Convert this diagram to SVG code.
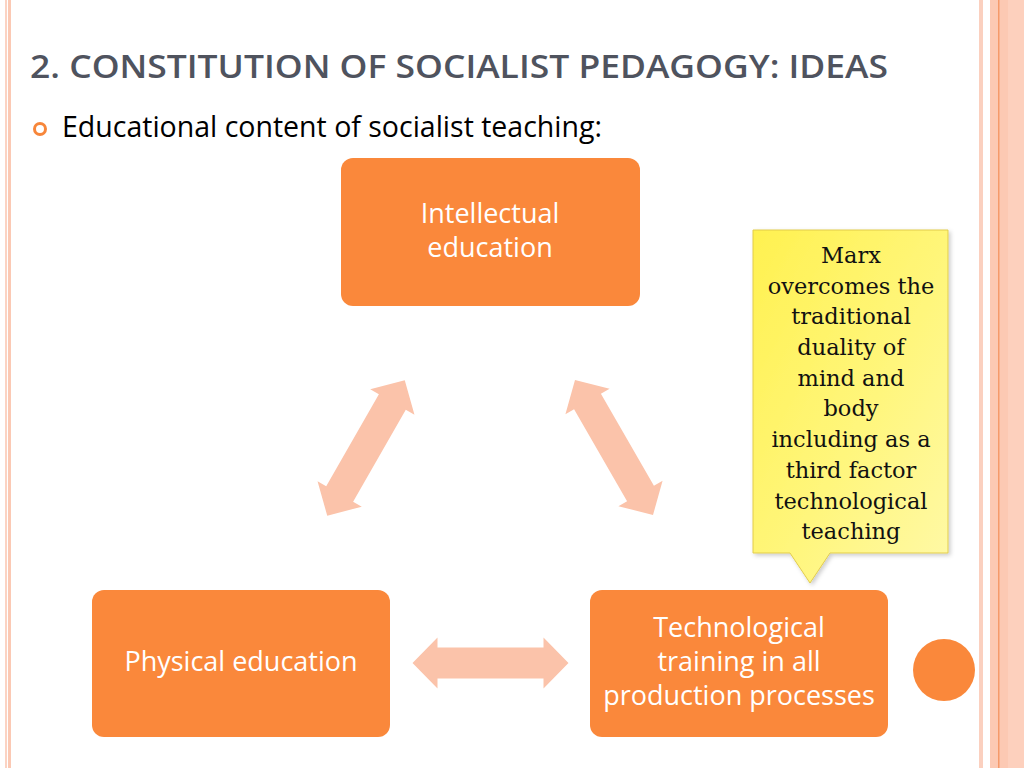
<svg xmlns="http://www.w3.org/2000/svg" width="1024" height="768" viewBox="0 0 1024 768">
<defs>
<style>
.box{fill:#fa883b}
.btxt{font-family:"Open Sans",sans-serif;font-size:27px;fill:#ffffff;text-anchor:middle}
.arr{fill:#fbc3aa}
.ctxt{font-family:"DejaVu Serif",serif;font-size:22.5px;fill:#111111;text-anchor:middle}
</style>
<linearGradient id="yg" x1="0" y1="0" x2="1" y2="1">
<stop offset="0" stop-color="#fff150"/>
<stop offset="0.55" stop-color="#fff67c"/>
<stop offset="1" stop-color="#fff9a8"/>
</linearGradient>
<filter id="sh" x="-10%" y="-10%" width="130%" height="130%">
<feDropShadow dx="2" dy="2" stdDeviation="2" flood-color="#000" flood-opacity="0.2"/>
</filter>
<path id="dbl" d="M-78,0 L-53,-25.5 L-53,-15.5 L53,-15.5 L53,-25.5 L78,0 L53,25.5 L53,15.5 L-53,15.5 L-53,25.5 Z"/>
</defs>
<rect width="1024" height="768" fill="#ffffff"/>
<g id="border">
<rect x="5" y="0" width="2" height="768" fill="#fbd3c3"/>
<rect x="8" y="0" width="3" height="768" fill="#fbc9b4"/>
<rect x="979" y="0" width="4" height="768" fill="#fbd0bf"/>
<rect x="990" y="0" width="34" height="768" fill="#fcc9b3"/>
<rect x="1008" y="0" width="16" height="768" fill="#fdd0bd"/>
<rect x="998" y="0" width="1.5" height="768" fill="#f59a6a"/>
<circle cx="944" cy="670" r="31" fill="#fa883b"/>
</g>
<g id="title">
<text x="30" y="78" font-family="'Open Sans',sans-serif" font-weight="600" font-size="32" fill="#4f535e" textLength="858" lengthAdjust="spacingAndGlyphs">2. CONSTITUTION OF SOCIALIST PEDAGOGY: IDEAS</text>
</g>
<g id="bullet">
<circle cx="40" cy="129" r="5.5" fill="none" stroke="#f7863a" stroke-width="3"/>
<text x="62" y="137" font-family="'Open Sans',sans-serif" font-size="28.5" fill="#000000">Educational content of socialist teaching:</text>
</g>
<g id="connectors">
<use href="#dbl" class="arr" transform="translate(490.5,663)"/>
<use href="#dbl" class="arr" transform="translate(366,448) rotate(-60.2)"/>
<use href="#dbl" class="arr" transform="translate(614,447.5) rotate(60)"/>
</g>
<g id="intellectual">
<rect class="box" x="341" y="158" width="299" height="148" rx="12"/>
<text class="btxt" x="490" y="223">Intellectual</text>
<text class="btxt" x="490" y="257">education</text>
</g>
<g id="physical">
<rect class="box" x="92" y="590" width="298" height="147" rx="12"/>
<text class="btxt" x="241" y="671">Physical education</text>
</g>
<g id="technological">
<rect class="box" x="590" y="590" width="298" height="147" rx="12"/>
<text class="btxt" x="739" y="637">Technological</text>
<text class="btxt" x="739" y="671">training in all</text>
<text class="btxt" x="739" y="705">production processes</text>
</g>
<g id="callout">
<path d="M753,230 H948 V553 H830 L810,583 L790,553 H753 Z" fill="url(#yg)" stroke="#e2cc4a" stroke-width="1" filter="url(#sh)"/>
<text class="ctxt" x="851" y="263">Marx</text>
<text class="ctxt" x="851" y="294">overcomes the</text>
<text class="ctxt" x="851" y="324">traditional</text>
<text class="ctxt" x="851" y="355">duality of</text>
<text class="ctxt" x="851" y="386">mind and</text>
<text class="ctxt" x="851" y="416">body</text>
<text class="ctxt" x="851" y="447">including as a</text>
<text class="ctxt" x="851" y="478">third factor</text>
<text class="ctxt" x="851" y="509">technological</text>
<text class="ctxt" x="851" y="539">teaching</text>
</g>
</svg>
